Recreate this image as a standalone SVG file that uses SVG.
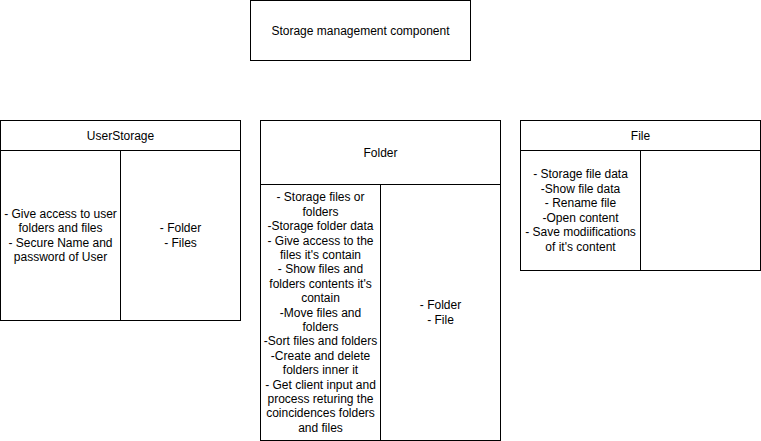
<svg xmlns="http://www.w3.org/2000/svg" width="761" height="441" viewBox="0 0 761 441">
<style>
rect{fill:#fff;stroke:#000;stroke-width:1}
line{stroke:#000;stroke-width:1}
text{font-family:"Liberation Sans",Arial,sans-serif;font-size:12px;fill:#000;text-anchor:middle}
</style>
<rect x="0" y="0" width="761" height="441" style="stroke:none"/>
<g id="storage-management">
<rect x="250.5" y="0.5" width="220" height="60"/>
<text x="360.5" y="34.5">Storage management component</text>
</g>
<g id="userstorage">
<rect x="0.5" y="120.5" width="240" height="200"/>
<line x1="0.5" y1="150.5" x2="240.5" y2="150.5"/>
<line x1="120.5" y1="150.5" x2="120.5" y2="320.5"/>
<text x="120.5" y="139.5">UserStorage</text>
<text x="60.5"><tspan x="60.5" y="217.5">- Give access to user</tspan><tspan x="60.5" y="232">folders and files</tspan><tspan x="60.5" y="246.5">- Secure Name and</tspan><tspan x="60.5" y="261">password of User</tspan></text>
<text x="180.5"><tspan x="180.5" y="232">- Folder</tspan><tspan x="180.5" y="246.5">- Files</tspan></text>
</g>
<g id="folder">
<rect x="260.5" y="120.5" width="240" height="320"/>
<line x1="260.5" y1="184.5" x2="500.5" y2="184.5"/>
<line x1="380.5" y1="184.5" x2="380.5" y2="440.5"/>
<text x="380.5" y="156.5">Folder</text>
<text x="320.5"><tspan x="320.5" y="201.3">- Storage files or</tspan><tspan x="320.5" y="215.7">folders</tspan><tspan x="320.5" y="230.1">-Storage folder data</tspan><tspan x="320.5" y="244.5">- Give access to the</tspan><tspan x="320.5" y="258.9">files it's contain</tspan><tspan x="320.5" y="273.3">- Show files and</tspan><tspan x="320.5" y="287.7">folders contents it's</tspan><tspan x="320.5" y="302.1">contain</tspan><tspan x="320.5" y="316.5">-Move files and</tspan><tspan x="320.5" y="330.9">folders</tspan><tspan x="320.5" y="345.3">-Sort files and folders</tspan><tspan x="320.5" y="359.7">-Create and delete</tspan><tspan x="320.5" y="374.1">folders inner it</tspan><tspan x="320.5" y="388.5">- Get client input and</tspan><tspan x="320.5" y="402.9">process returing the</tspan><tspan x="320.5" y="417.3">coincidences folders</tspan><tspan x="320.5" y="431.7">and files</tspan></text>
<text x="440.5"><tspan x="440.5" y="309">- Folder</tspan><tspan x="440.5" y="323.5">- File</tspan></text>
</g>
<g id="file">
<rect x="520.5" y="120.5" width="240" height="150"/>
<line x1="520.5" y1="150.5" x2="760.5" y2="150.5"/>
<line x1="640.5" y1="150.5" x2="640.5" y2="270.5"/>
<text x="640.5" y="139.5">File</text>
<text x="580.5"><tspan x="580.5" y="178">- Storage file data</tspan><tspan x="580.5" y="192.5">-Show file data</tspan><tspan x="580.5" y="207">- Rename file</tspan><tspan x="580.5" y="221.5">-Open content</tspan><tspan x="580.5" y="236">- Save modiifications</tspan><tspan x="580.5" y="250.5">of it's content</tspan></text>
</g>
<g id="connectors"></g>
</svg>
